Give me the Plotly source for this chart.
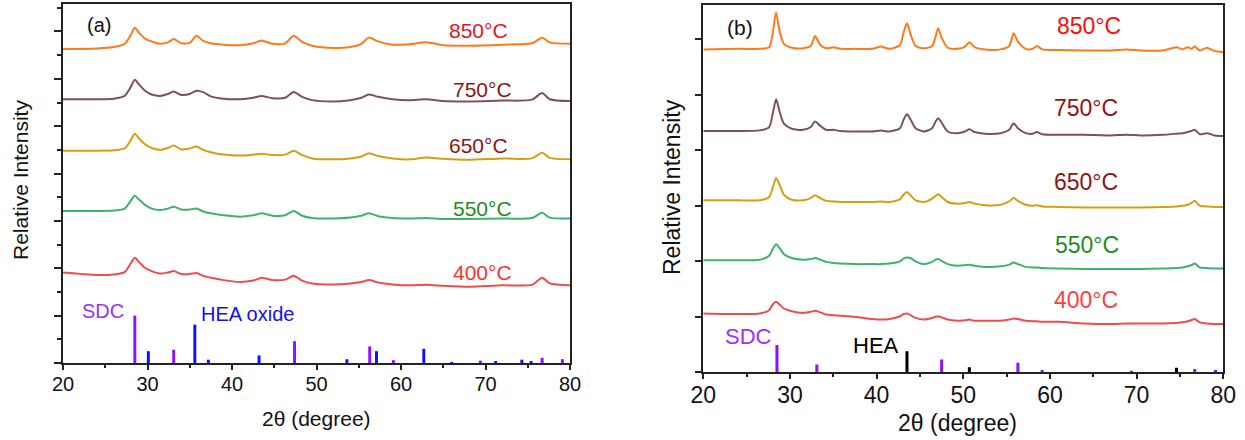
import plotly.graph_objects as go

# ---------------- Panel (a) data ----------------
x_a = [20, 24, 26, 27.3, 28.0, 28.5, 29.0, 29.7, 30.5, 31.5, 32.4, 33.1, 34.0, 35.0, 35.8, 36.6, 37.5, 39, 41, 42.5,
       43.5, 44.8, 46.3, 47.3, 48.3, 49.5, 52, 54, 55.3, 56.2, 57.3, 59, 61, 63, 65, 68, 72, 75.5, 76.7, 77.6, 80]
a850 = [6.63, 6.64, 6.67, 6.74, 6.92, 7.08, 6.97, 6.85, 6.79, 6.74, 6.77, 6.84, 6.75, 6.76, 6.91, 6.80, 6.75, 6.72, 6.71, 6.75,
        6.81, 6.74, 6.75, 6.91, 6.78, 6.70, 6.65, 6.67, 6.74, 6.87, 6.79, 6.72, 6.73, 6.77, 6.71, 6.70, 6.72, 6.75, 6.87, 6.77, 6.74]
a750 = [5.57, 5.57, 5.58, 5.64, 5.82, 5.98, 5.88, 5.75, 5.67, 5.64, 5.68, 5.73, 5.66, 5.68, 5.75, 5.72, 5.63, 5.58, 5.57, 5.60,
        5.64, 5.59, 5.60, 5.72, 5.62, 5.55, 5.52, 5.55, 5.60, 5.67, 5.62, 5.57, 5.55, 5.57, 5.53, 5.52, 5.54, 5.56, 5.70, 5.57, 5.53]
a650 = [4.48, 4.48, 4.49, 4.53, 4.70, 4.84, 4.74, 4.62, 4.54, 4.50, 4.54, 4.59, 4.51, 4.53, 4.57, 4.50, 4.45, 4.40, 4.38, 4.40,
        4.42, 4.39, 4.40, 4.48, 4.39, 4.32, 4.30, 4.32, 4.36, 4.43, 4.37, 4.32, 4.30, 4.34, 4.31, 4.29, 4.32, 4.32, 4.44, 4.33, 4.30]
a550 = [3.21, 3.21, 3.22, 3.26, 3.42, 3.53, 3.45, 3.34, 3.26, 3.23, 3.26, 3.30, 3.24, 3.24, 3.26, 3.20, 3.16, 3.12, 3.09, 3.12,
        3.16, 3.11, 3.12, 3.21, 3.11, 3.06, 3.05, 3.07, 3.11, 3.16, 3.10, 3.06, 3.05, 3.06, 3.04, 3.04, 3.05, 3.06, 3.17, 3.07, 3.05]
a400 = [1.91, 1.86, 1.87, 1.92, 2.10, 2.22, 2.13, 2.01, 1.94, 1.89, 1.91, 1.94, 1.88, 1.88, 1.90, 1.84, 1.80, 1.75, 1.71, 1.74,
        1.80, 1.75, 1.76, 1.84, 1.74, 1.68, 1.66, 1.68, 1.71, 1.75, 1.70, 1.66, 1.64, 1.65, 1.63, 1.61, 1.64, 1.65, 1.80, 1.68, 1.64]

sdc_pos_a = [28.5, 33.1, 47.4, 56.3, 59.1, 69.4, 76.7, 79.1]
sdc_h_a = [1.00, 0.28, 0.46, 0.35, 0.06, 0.05, 0.11, 0.08]
heaox_pos = [30.1, 35.6, 37.2, 43.2, 53.6, 57.1, 62.7, 66.0, 71.2, 74.3, 75.4]
heaox_h = [0.25, 0.81, 0.07, 0.16, 0.08, 0.25, 0.30, 0.02, 0.03, 0.07, 0.04]

# ---------------- Panel (b) data ----------------
x_b = [20, 24, 26.5, 27.6, 28.0, 28.4, 28.8, 29.3, 30.2, 31.5, 32.4, 32.9, 33.5, 34.2, 35.0, 35.8, 37.5, 39.5, 40.5, 41.5,
       42.7, 43.1, 43.5, 43.9, 44.5, 45.5, 46.4, 46.8, 47.1, 47.5, 48.2, 49.3, 50.2, 50.7, 51.3, 52.5, 54.3, 55.3, 55.8, 56.3,
       57.2, 58.0, 58.5, 59.1, 61, 64, 67, 68.8, 70.5, 73, 74.6, 75.3, 75.9, 76.3, 76.7, 77.3, 78.1, 79, 80]
b850 = [5.82, 5.83, 5.83, 5.86, 6.10, 6.49, 6.15, 5.92, 5.85, 5.84, 5.88, 6.06, 5.90, 5.84, 5.86, 5.83, 5.83, 5.83, 5.87, 5.83,
        5.90, 6.12, 6.29, 6.10, 5.88, 5.84, 5.88, 6.05, 6.20, 6.03, 5.85, 5.83, 5.87, 5.95, 5.86, 5.82, 5.82, 5.88, 6.11, 5.96,
        5.83, 5.83, 5.88, 5.82, 5.81, 5.80, 5.80, 5.82, 5.80, 5.80, 5.86, 5.82, 5.86, 5.83, 5.87, 5.80, 5.85, 5.79, 5.77]
b750 = [4.35, 4.35, 4.36, 4.42, 4.65, 4.92, 4.70, 4.48, 4.39, 4.37, 4.42, 4.52, 4.44, 4.37, 4.37, 4.35, 4.34, 4.34, 4.36, 4.34,
        4.40, 4.55, 4.65, 4.56, 4.40, 4.34, 4.40, 4.52, 4.58, 4.50, 4.34, 4.31, 4.34, 4.38, 4.33, 4.30, 4.31, 4.37, 4.49, 4.40,
        4.31, 4.30, 4.33, 4.29, 4.28, 4.28, 4.27, 4.28, 4.27, 4.28, 4.30, 4.31, 4.33, 4.35, 4.37, 4.29, 4.31, 4.27, 4.26]
b650 = [3.10, 3.10, 3.10, 3.16, 3.32, 3.50, 3.38, 3.20, 3.11, 3.10, 3.14, 3.19, 3.14, 3.09, 3.08, 3.07, 3.07, 3.07, 3.08, 3.07,
        3.12, 3.20, 3.25, 3.19, 3.10, 3.07, 3.13, 3.18, 3.21, 3.16, 3.07, 3.04, 3.05, 3.07, 3.04, 3.01, 3.02, 3.08, 3.14, 3.09,
        3.02, 3.00, 3.01, 2.99, 2.98, 2.97, 2.97, 2.97, 2.97, 2.98, 2.99, 3.00, 3.02, 3.05, 3.09, 3.00, 2.99, 2.98, 2.98]
b550 = [2.02, 2.02, 2.03, 2.10, 2.22, 2.31, 2.24, 2.13, 2.06, 2.03, 2.04, 2.06, 2.03, 1.99, 1.97, 1.96, 1.95, 1.95, 1.95, 1.96,
        2.00, 2.05, 2.07, 2.06, 2.00, 1.95, 1.99, 2.03, 2.04, 2.01, 1.95, 1.92, 1.93, 1.94, 1.92, 1.90, 1.91, 1.94, 1.98, 1.95,
        1.90, 1.89, 1.89, 1.88, 1.87, 1.86, 1.86, 1.86, 1.86, 1.87, 1.88, 1.89, 1.91, 1.93, 1.96, 1.89, 1.88, 1.87, 1.87]
b400 = [1.06, 1.05, 1.06, 1.12, 1.22, 1.27, 1.22, 1.15, 1.10, 1.07, 1.09, 1.11, 1.08, 1.04, 1.03, 1.02, 1.00, 0.96, 0.95, 0.96,
        1.01, 1.05, 1.06, 1.03, 0.98, 0.95, 0.98, 1.00, 1.01, 0.99, 0.95, 0.93, 0.94, 0.95, 0.93, 0.93, 0.93, 0.95, 0.97, 0.96,
        0.93, 0.92, 0.92, 0.91, 0.91, 0.88, 0.87, 0.88, 0.88, 0.88, 0.89, 0.90, 0.92, 0.94, 0.96, 0.90, 0.88, 0.87, 0.87]

sdc_pos_b = [28.5, 33.1, 47.5, 56.3, 59.1, 69.4, 76.7, 79.1]
sdc_h_b = [0.49, 0.14, 0.23, 0.17, 0.04, 0.03, 0.06, 0.04]
hea_pos = [43.5, 50.7, 74.6]
hea_h = [0.38, 0.09, 0.08]

temps = ["850°C", "750°C", "650°C", "550°C", "400°C"]
x_ticks = [20, 30, 40, 50, 60, 70, 80]

line_colors = ["#FF7A1A", "#7E5252", "#D2A010", "#3DB36E", "#F24B4B"]
lab_colors_a = ["#E3141C", "#8B1414", "#8B1414", "#1E8C1E", "#FF3030"]
lab_colors_b = ["#FF0A0A", "#8B1414", "#8B1414", "#1E8C1E", "#FF4040"]
lab_y_a = [7.03, 5.78, 4.60, 3.27, 1.92]
lab_x_a = [69.2, 69.7, 69.2, 69.7, 69.7]
lab_y_b = [6.24, 4.76, 3.43, 2.29, 1.30]
lab_x_b = [64.5, 64.1, 64.1, 64.3, 64.1]

FONT = "Liberation Sans, Arial, sans-serif"
fig = go.Figure()

ys_a = [a850, a750, a650, a550, a400]
ys_b = [b850, b750, b650, b550, b400]
for i, t in enumerate(temps):
    fig.add_trace(go.Scatter(x=x_a, y=ys_a[i], mode="lines",
                             line=dict(color=line_colors[i], width=2, shape="spline", smoothing=0.7),
                             xaxis="x", yaxis="y", showlegend=False, name=t))
    fig.add_trace(go.Scatter(x=x_b, y=ys_b[i], mode="lines",
                             line=dict(color=line_colors[i], width=2, shape="spline", smoothing=0.7),
                             xaxis="x2", yaxis="y2", showlegend=False, name=t))

fig.add_trace(go.Bar(x=sdc_pos_a, y=sdc_h_a, width=0.35, marker=dict(color="#8F10FF", line=dict(width=0)),
                     xaxis="x", yaxis="y", showlegend=False, name="SDC"))
fig.add_trace(go.Bar(x=heaox_pos, y=heaox_h, width=0.35, marker=dict(color="#1010FF", line=dict(width=0)),
                     xaxis="x", yaxis="y", showlegend=False, name="HEA oxide"))
fig.add_trace(go.Bar(x=sdc_pos_b, y=sdc_h_b, width=0.35, marker=dict(color="#8F10FF", line=dict(width=0)),
                     xaxis="x2", yaxis="y2", showlegend=False, name="SDC"))
fig.add_trace(go.Bar(x=hea_pos, y=hea_h, width=0.35, marker=dict(color="#000000", line=dict(width=0)),
                     xaxis="x2", yaxis="y2", showlegend=False, name="HEA"))

W, H = 1245, 440

def xax(domain, fs, standoff):
    return dict(domain=domain, range=[20, 80], tickvals=x_ticks, ticks="outside", ticklen=5, tickwidth=1.5,
                tickcolor="#222", showline=True, linecolor="#222", linewidth=1.5, mirror=True, showgrid=False,
                zeroline=False, automargin=False, ticklabelstandoff=standoff,
                tickfont=dict(family=FONT, size=fs, color="#111"),
                minor=dict(dtick=5, tick0=25, ticks="outside", ticklen=3, tickwidth=1.5, tickcolor="#222"))

def yax(domain, rng, minor, anchor):
    d = dict(domain=domain, range=rng, dtick=1, tick0=0, ticks="outside", ticklen=7, tickwidth=1.5, tickcolor="#222",
             showticklabels=False, showline=True, linecolor="#222", linewidth=1.5, mirror=True, showgrid=False,
             zeroline=False, anchor=anchor, automargin=False)
    if minor:
        d["minor"] = dict(dtick=0.5, tick0=0, ticks="outside", ticklen=4, tickwidth=1.5, tickcolor="#222")
    return d

fig.update_layout(
    template="none",
    width=W, height=H, margin=dict(l=0, r=0, t=0, b=0, pad=0),
    paper_bgcolor="white", plot_bgcolor="white", barmode="overlay",
    xaxis=dict(xax([63 / W, 570 / W], 20, -3), anchor="y"),
    yaxis=yax([1 - 363 / H, 1 - 4 / H], [0, 7.58], True, "x"),
    xaxis2=dict(xax([703.3 / W, 1223.3 / W], 23, -4), anchor="y2"),
    yaxis2=yax([1 - 372.3 / H, 1 - 5 / H], [0, 6.62], False, "x2"),
)

C = dict(xanchor="center", yanchor="middle", showarrow=False)
ann = []
for i, t in enumerate(temps):
    ann.append(dict(x=lab_x_a[i], y=lab_y_a[i], xref="x", yref="y", text=t,
                    font=dict(family=FONT, size=21, color=lab_colors_a[i]), **C))
    ann.append(dict(x=lab_x_b[i], y=lab_y_b[i], xref="x2", yref="y2", text=t,
                    font=dict(family=FONT, size=23, color=lab_colors_b[i]), **C))
ann += [
    dict(x=24.7, y=1.09, xref="x", yref="y", text="SDC", font=dict(family=FONT, size=20, color="#9B30FF"), **C),
    dict(x=41.8, y=1.03, xref="x", yref="y", text="HEA oxide", font=dict(family=FONT, size=20, color="#1010F0"), **C),
    dict(x=25.2, y=0.65, xref="x2", yref="y2", text="SDC", font=dict(family=FONT, size=22, color="#9B30FF"), **C),
    dict(x=39.9, y=0.48, xref="x2", yref="y2", text="HEA", font=dict(family=FONT, size=22, color="#000"), **C),
    dict(x=99 / W, y=1 - 25 / H, xref="paper", yref="paper", text="(a)", font=dict(family=FONT, size=20, color="#111"), **C),
    dict(x=740 / W, y=1 - 27 / H, xref="paper", yref="paper", text="(b)", font=dict(family=FONT, size=21, color="#111"), **C),
    dict(x=316 / W, y=1 - 418 / H, xref="paper", yref="paper", text="2θ (degree)", font=dict(family=FONT, size=21, color="#111"), **C),
    dict(x=957 / W, y=1 - 423 / H, xref="paper", yref="paper", text="2θ (degree)", font=dict(family=FONT, size=23, color="#111"), **C),
    dict(x=20 / W, y=1 - 180 / H, xref="paper", yref="paper", text="Relative Intensity", textangle=-90,
         font=dict(family=FONT, size=21, color="#111"), **C),
    dict(x=672 / W, y=1 - 187 / H, xref="paper", yref="paper", text="Relative Intensity", textangle=-90,
         font=dict(family=FONT, size=23, color="#111"), **C),
]
fig.update_layout(annotations=ann)

fig.write_html("out.html", config={"displayModeBar": False},
               post_script="document.body.style.margin='0';")
